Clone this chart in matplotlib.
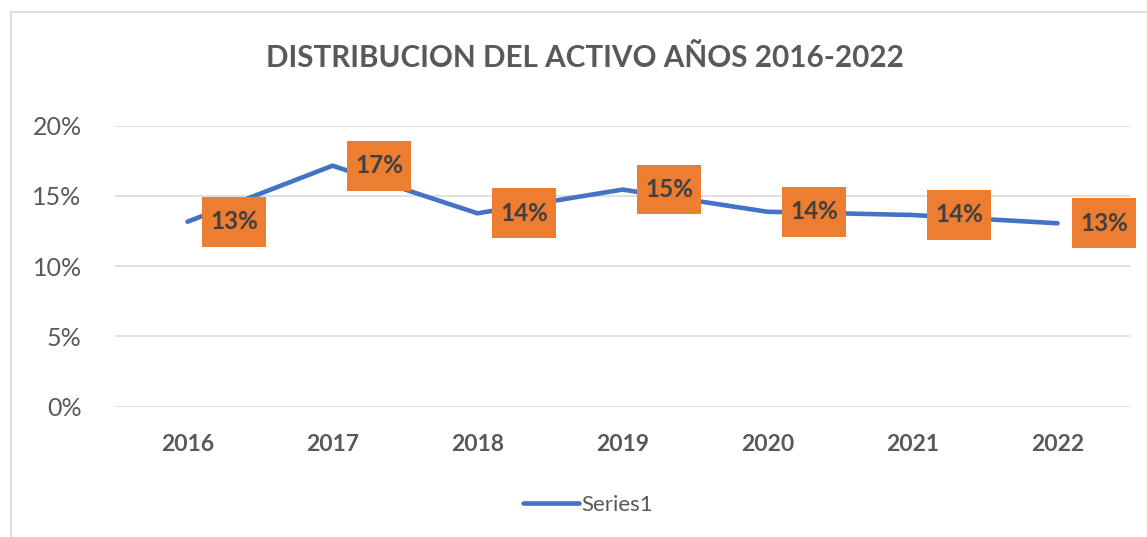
import matplotlib
matplotlib.use("Agg")
import matplotlib.pyplot as plt
from matplotlib.patches import Rectangle
from matplotlib.path import Path
from matplotlib.ticker import PercentFormatter

# ==============================
# Data
# ==============================
years = ["2016", "2017", "2018", "2019", "2020", "2021", "2022"]
activo = [0.1316, 0.1715, 0.1376, 0.1545, 0.1387, 0.1364, 0.1305]
series_name = "Series1"
title = "DISTRIBUCION DEL ACTIVO AÑOS 2016-2022"

LINE_COLOR = "#4472C4"
BOX_COLOR = "#ED7D31"
TEXT_GRAY = "#595959"
GRID_GRAY = "#D9D9D9"

plt.rcParams["font.family"] = ["Lato", "DejaVu Sans"]


# box around labels: wider vertical padding than horizontal (Excel style)
def label_box(x0, y0, width, height, mutation_size):
    px = 0.33 * mutation_size
    py = 0.55 * mutation_size
    x0, y0 = x0 - px, y0 - py
    x1, y1 = x0 + width + 2 * px, y0 + height + 2 * py
    return Path([(x0, y0), (x1, y0), (x1, y1), (x0, y1), (x0, y0)], closed=True)


W, H = 1147, 537
fig = plt.figure(figsize=(W / 100, H / 100), dpi=100)
ax = fig.add_axes([115 / W, (H - 406.5) / H, (1130 - 115) / W, (406.5 - 125.7) / H])

x = list(range(len(years)))
ax.plot(x, activo, color=LINE_COLOR, linewidth=3.3, solid_capstyle="round",
        solid_joinstyle="miter", label=series_name, zorder=2)

# data labels to the right of each point
for xi, v in zip(x, activo):
    ax.annotate(f"{v:.0%}", xy=(xi, v), xytext=(33.5, 0), textcoords="offset points",
                ha="center", va="center", fontsize=17.5, fontweight="bold",
                color="#404040", zorder=3, annotation_clip=False,
                bbox=dict(boxstyle=label_box, fc=BOX_COLOR, ec="none"))

ax.set_xlim(-0.5, len(years) - 0.5)
ax.set_ylim(0, 0.20)
ax.set_yticks([0, 0.05, 0.10, 0.15, 0.20])
ax.yaxis.set_major_formatter(PercentFormatter(1.0, decimals=0))
ax.set_xticks(x)
ax.set_xticklabels(years)

ax.grid(axis="y", color=GRID_GRAY, linewidth=1.1, zorder=0)
ax.set_axisbelow(True)
for s in ax.spines.values():
    s.set_visible(False)
ax.tick_params(axis="both", length=0)
ax.tick_params(axis="y", pad=24, labelsize=18, labelcolor=TEXT_GRAY)
ax.tick_params(axis="x", pad=20, labelsize=16.5, labelcolor=TEXT_GRAY)
for lbl in ax.get_xticklabels():
    lbl.set_fontweight("bold")

fig.text(585 / W, (H - 58) / H, title, ha="center", va="center",
         fontsize=21.3, fontweight="bold", color=TEXT_GRAY)

fig.legend(loc="center", bbox_to_anchor=(588 / W, (H - 505) / H), frameon=False,
           fontsize=16, labelcolor=TEXT_GRAY, handlelength=2.5, handletextpad=0.13)

# chart border
fig.patches.append(Rectangle((11 / W, -0.1), 1.2, (H - 12) / H + 0.1, transform=fig.transFigure,
                             fill=False, ec=GRID_GRAY, lw=1.2))

fig.savefig("out.png", dpi=100, facecolor="white")
